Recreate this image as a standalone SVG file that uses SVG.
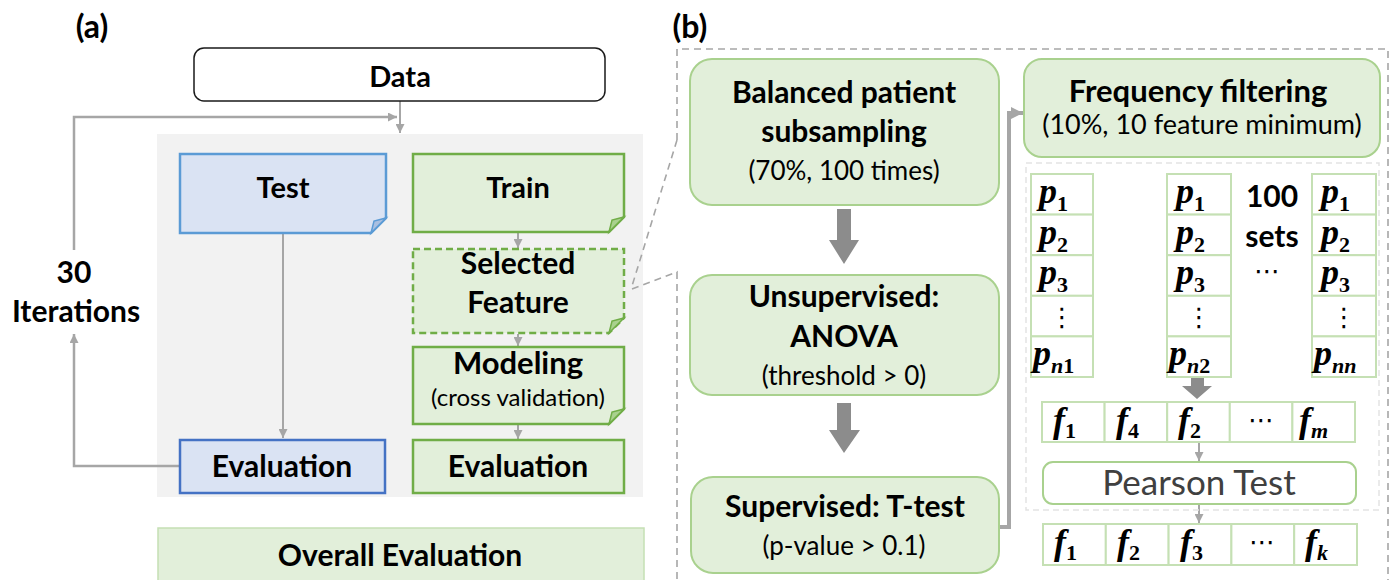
<svg xmlns="http://www.w3.org/2000/svg" width="1394" height="580" viewBox="0 0 1394 580">
<defs>
<style>
.lbl{font-family:Lato,"Liberation Sans",sans-serif;font-weight:bold;fill:#000;text-anchor:middle}
.b28{font-size:29px}
.b30{font-size:30px}
.reg{font-family:Lato,"Liberation Sans",sans-serif;font-weight:normal;fill:#000;text-anchor:middle}
.math{font-family:"Liberation Serif","DejaVu Serif",serif;font-weight:bold;font-style:italic;font-size:36px;fill:#000}
.sub{font-style:normal;font-size:22px}
.subi{font-style:italic;font-size:22px}
.dots{font-family:"DejaVu Sans",sans-serif;font-size:26px;fill:#000;text-anchor:middle}
.blue{fill:#dae3f3;stroke-width:2.5}
.grn{fill:#e2efda;stroke:#70ad47;stroke-width:2.5}
.gbox{fill:#e2efda;stroke:#a9d18e;stroke-width:2}
.cell{fill:#fff;stroke:#c5e0b4;stroke-width:2}
.con{fill:none;stroke:#a6a6a6;stroke-width:2.5}
.thin{fill:none;stroke:#a6a6a6;stroke-width:2}
.dash{fill:none;stroke:#a6a6a6;stroke-width:1.6;stroke-dasharray:7 5}
.blk{fill:#8c8c8c}
</style>
<marker id="ah" viewBox="0 0 10 10" refX="10" refY="5" markerWidth="9" markerHeight="9" markerUnits="userSpaceOnUse" orient="auto">
<path d="M0,0 L10,5 L0,10 z" fill="#a6a6a6"/>
</marker>
<marker id="ahb" viewBox="0 0 10 10" refX="10" refY="5" markerWidth="12" markerHeight="12" markerUnits="userSpaceOnUse" orient="auto">
<path d="M0,0 L10,5 L0,10 z" fill="#a6a6a6"/>
</marker>
</defs>

<rect width="1394" height="580" fill="#fff"/>

<text class="lbl" font-size="32" x="92" y="38">(a)</text>
<text class="lbl" font-size="32" x="690" y="38">(b)</text>

<rect id="panel-a" x="157" y="134" width="486" height="363" fill="#f2f2f2"/>

<g id="connectors">
<path class="con" d="M180,466 H74 V334" marker-end="url(#ah)"/>
<path class="con" d="M74,250 V117 H397" marker-end="url(#ah)"/>
<path class="thin" d="M400,101 V133" marker-end="url(#ah)"/>
<path class="thin" d="M283,233 V438" marker-end="url(#ah)"/>
<path class="thin" d="M518,233 V248" marker-end="url(#ah)"/>
<path class="thin" d="M518,334 V346" marker-end="url(#ah)"/>
<path class="thin" d="M518,425 V439" marker-end="url(#ah)"/>
<path class="dash" d="M677,140 V49 H1388 V580"/>
<path class="dash" d="M677,140 L632,286"/>
<path class="dash" d="M632,289 L677,272 V580"/>
<path fill="none" stroke="#a6a6a6" stroke-width="4" d="M999,527 H1009 V113 H1023" marker-end="url(#ahb)"/>
<polygon class="blk" points="837,209 851,209 851,240 859,240 844,264 829,240 837,240"/>
<polygon class="blk" points="837,403 851,403 851,430 860,430 844,453 829,430 837,430"/>
<polygon class="blk" points="1191,377 1204,377 1204,386 1212,386 1197,399 1182,386 1191,386"/>
<path class="thin" d="M1199,442 V461" marker-end="url(#ah)"/>
<path class="thin" d="M1199,504 V523" marker-end="url(#ah)"/>
</g>

<g id="data">
<rect x="194" y="48" width="411" height="53" rx="10" fill="#fff" stroke="#1a1a1a" stroke-width="1.5"/>
<text class="lbl b28" x="400" y="87">Data</text>
</g>

<g id="iterations">
<text class="lbl b30" x="74" y="283">30</text>
<text class="lbl b30" x="76" y="322">Iterations</text>
</g>

<g id="test">
<path class="blue" stroke="#5b9bd5" d="M180,154 H386 V218 L371,233 H180 Z"/>
<path d="M386,218 L371,233 L374,221 Z" fill="#a9bfe0" stroke="#5b9bd5" stroke-width="1.5"/>
<text class="lbl b28" x="283" y="198">Test</text>
</g>

<g id="train">
<path class="grn" d="M413,154 H624 V217 L609,232 H413 Z"/>
<path d="M624,217 L609,232 L612,220 Z" fill="#a9d18e" stroke="#70ad47" stroke-width="1.5"/>
<text class="lbl b28" x="518" y="198">Train</text>
</g>

<g id="selected-feature">
<path class="grn" stroke-dasharray="7 4" d="M413,249 H624 V318 L609,333 H413 Z"/>
<path d="M624,318 L609,333 L612,321 Z" fill="#a9d18e" stroke="#70ad47" stroke-width="1.5"/>
<text class="lbl b30" x="518" y="274">Selected</text>
<text class="lbl b30" x="518" y="313">Feature</text>
</g>

<g id="modeling">
<path class="grn" d="M413,347 H624 V409 L609,424 H413 Z"/>
<path d="M624,409 L609,424 L612,412 Z" fill="#a9d18e" stroke="#70ad47" stroke-width="1.5"/>
<text class="lbl" font-size="31" x="518" y="374">Modeling</text>
<text class="reg" font-size="24" x="518" y="406">(cross validation)</text>
</g>

<g id="evaluation-train">
<rect class="grn" x="413" y="440" width="211" height="53"/>
<text class="lbl b30" x="518" y="477">Evaluation</text>
</g>

<g id="evaluation-test">
<rect class="blue" stroke="#4472c4" x="180" y="440" width="205" height="53"/>
<text class="lbl b30" x="282" y="477">Evaluation</text>
</g>

<g id="overall-evaluation">
<rect x="158" y="528" width="486" height="60" fill="#e2efda" stroke="#c5e0b4" stroke-width="1.5"/>
<text class="lbl b30" x="400" y="566">Overall Evaluation</text>
</g>

<g id="balanced">
<rect class="gbox" x="690" y="59" width="309" height="146" rx="22"/>
<text class="lbl b30" x="844" y="103">Balanced patient</text>
<text class="lbl b30" x="844" y="142">subsampling</text>
<text class="reg" font-size="26" x="844" y="180">(70%, 100 times)</text>
</g>

<g id="anova">
<rect class="gbox" x="690" y="275" width="309" height="120" rx="22"/>
<text class="lbl b30" x="844" y="307">Unsupervised:</text>
<text class="lbl b30" x="844" y="347">ANOVA</text>
<text class="reg" font-size="26" x="844" y="385">(threshold &gt; 0)</text>
</g>

<g id="ttest">
<rect class="gbox" x="691" y="477" width="308" height="96" rx="22"/>
<text class="lbl b30" x="845" y="517">Supervised: T-test</text>
<text class="reg" font-size="26" x="844" y="555">(p-value &gt; 0.1)</text>
</g>

<g id="frequency">
<rect class="gbox" x="1024" y="59" width="356" height="98" rx="18"/>
<text class="lbl" font-size="31" x="1198" y="102">Frequency filtering</text>
<text class="reg" font-size="27" x="1202" y="134">(10%, 10 feature minimum)</text>
</g>

<g id="sets">
<rect x="1026" y="163" width="353" height="347" fill="none" stroke="#e3e3e3" stroke-width="1.5" stroke-dasharray="6 4"/>
<g id="col1">
<rect class="cell" x="1031" y="174" width="62" height="40.6"/>
<rect class="cell" x="1031" y="214.6" width="62" height="40.6"/>
<rect class="cell" x="1031" y="255.2" width="62" height="40.6"/>
<rect class="cell" x="1031" y="295.8" width="62" height="40.6"/>
<rect class="cell" x="1031" y="336.4" width="62" height="40.6"/>
<text class="math" x="1039" y="203">p<tspan class="sub" dy="8">1</tspan></text>
<text class="math" x="1039" y="244">p<tspan class="sub" dy="8">2</tspan></text>
<text class="math" x="1039" y="284">p<tspan class="sub" dy="8">3</tspan></text>
<text class="dots" x="1062" y="326">⋮</text>
<text class="math" x="1033" y="365">p<tspan class="subi" dy="8">n</tspan><tspan class="sub">1</tspan></text>
</g>
<g id="col2">
<rect class="cell" x="1167" y="174" width="64" height="40.6"/>
<rect class="cell" x="1167" y="214.6" width="64" height="40.6"/>
<rect class="cell" x="1167" y="255.2" width="64" height="40.6"/>
<rect class="cell" x="1167" y="295.8" width="64" height="40.6"/>
<rect class="cell" x="1167" y="336.4" width="64" height="40.6"/>
<text class="math" x="1176" y="203">p<tspan class="sub" dy="8">1</tspan></text>
<text class="math" x="1176" y="244">p<tspan class="sub" dy="8">2</tspan></text>
<text class="math" x="1176" y="284">p<tspan class="sub" dy="8">3</tspan></text>
<text class="dots" x="1199" y="326">⋮</text>
<text class="math" x="1169" y="365">p<tspan class="subi" dy="8">n</tspan><tspan class="sub">2</tspan></text>
</g>
<g id="col3">
<rect class="cell" x="1312" y="174" width="64" height="40.6"/>
<rect class="cell" x="1312" y="214.6" width="64" height="40.6"/>
<rect class="cell" x="1312" y="255.2" width="64" height="40.6"/>
<rect class="cell" x="1312" y="295.8" width="64" height="40.6"/>
<rect class="cell" x="1312" y="336.4" width="64" height="40.6"/>
<text class="math" x="1321" y="203">p<tspan class="sub" dy="8">1</tspan></text>
<text class="math" x="1321" y="244">p<tspan class="sub" dy="8">2</tspan></text>
<text class="math" x="1321" y="284">p<tspan class="sub" dy="8">3</tspan></text>
<text class="dots" x="1344" y="326">⋮</text>
<text class="math" x="1314" y="365">p<tspan class="subi" dy="8">nn</tspan></text>
</g>
<text class="lbl b30" x="1272" y="207">100</text>
<text class="lbl b30" x="1272" y="247">sets</text>
<text class="dots" x="1267" y="280">⋯</text>
</g>

<g id="frow1">
<rect class="cell" x="1042" y="402" width="62.6" height="40"/>
<rect class="cell" x="1104.6" y="402" width="62.6" height="40"/>
<rect class="cell" x="1167.2" y="402" width="62.6" height="40"/>
<rect class="cell" x="1229.8" y="402" width="62.6" height="40"/>
<rect class="cell" x="1292.4" y="402" width="62.6" height="40"/>
<text class="math" x="1053" y="432">f<tspan class="sub" dy="6">1</tspan></text>
<text class="math" x="1116" y="432">f<tspan class="sub" dy="6">4</tspan></text>
<text class="math" x="1178" y="432">f<tspan class="sub" dy="6">2</tspan></text>
<text class="dots" x="1261" y="429">⋯</text>
<text class="math" x="1299" y="432">f<tspan class="subi" dy="6">m</tspan></text>
</g>

<g id="pearson">
<rect x="1043" y="462" width="313" height="42" rx="10" fill="#fff" stroke="#a9d18e" stroke-width="2"/>
<text class="reg" font-size="35" style="fill:#404040" x="1199" y="495">Pearson Test</text>
</g>

<g id="frow2">
<rect class="cell" x="1043" y="524" width="62.8" height="41"/>
<rect class="cell" x="1105.8" y="524" width="62.8" height="41"/>
<rect class="cell" x="1168.6" y="524" width="62.8" height="41"/>
<rect class="cell" x="1231.4" y="524" width="62.8" height="41"/>
<rect class="cell" x="1294.2" y="524" width="62.8" height="41"/>
<text class="math" x="1054" y="554">f<tspan class="sub" dy="6">1</tspan></text>
<text class="math" x="1117" y="554">f<tspan class="sub" dy="6">2</tspan></text>
<text class="math" x="1180" y="554">f<tspan class="sub" dy="6">3</tspan></text>
<text class="dots" x="1262" y="551">⋯</text>
<text class="math" x="1305" y="554">f<tspan class="subi" dy="6">k</tspan></text>
</g>
</svg>
